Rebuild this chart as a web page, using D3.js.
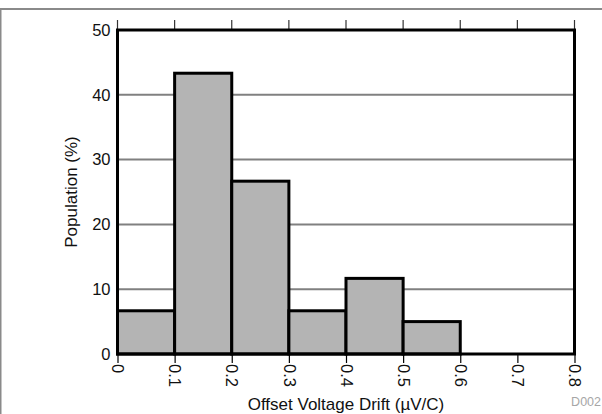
<!DOCTYPE html>
<html>
<head>
<meta charset="utf-8">
<script src="https://cdn.jsdelivr.net/npm/d3@7"></script>
<style>
  html, body { margin: 0; padding: 0; background: #fff; }
  svg { display: block; font-family: "Liberation Sans", Arial, sans-serif; }
</style>
</head>
<body>
<svg id="chart" width="602" height="414"></svg>
<script>
// Histogram bins (µV/C) and share of units in each bin (%)
const binStart = [0.0, 0.1, 0.2, 0.3, 0.4, 0.5, 0.6, 0.7];
const binEnd   = [0.1, 0.2, 0.3, 0.4, 0.5, 0.6, 0.7, 0.8];
const population = [6.67, 43.33, 26.67, 6.67, 11.67, 5.0, 0, 0];

const xTicks = [0, 0.1, 0.2, 0.3, 0.4, 0.5, 0.6, 0.7, 0.8];
const yTicks = [0, 10, 20, 30, 40, 50];

const xTitle = "Offset Voltage Drift (µV/C)";
const yTitle = "Population (%)";
const figId = "D002";

const svg = d3.select("#chart");
const W = 602, H = 414;
const plot = { left: 117.5, right: 574.5, top: 30, bottom: 354 };

const x = d3.scaleLinear().domain([0, 0.8]).range([plot.left, plot.right]);
const y = d3.scaleLinear().domain([0, 50]).range([plot.bottom, plot.top]);

// outer figure border (top and left edges are visible)
svg.append("rect")
  .attr("x", 0.5).attr("y", 9).attr("width", W + 10).attr("height", H + 10)
  .attr("fill", "none").attr("stroke", "#8a8a8a").attr("stroke-width", 2);

// horizontal grid
svg.append("g")
  .selectAll("line")
  .data(yTicks.filter(v => v > 0 && v < 50))
  .join("line")
  .attr("x1", plot.left).attr("x2", plot.right)
  .attr("y1", d => y(d)).attr("y2", d => y(d))
  .attr("stroke", "#808080").attr("stroke-width", 2);

// bars
const bins = binStart.map((s, i) => ({ s, e: binEnd[i], v: population[i] }))
  .filter(d => d.v > 0);
svg.append("g")
  .selectAll("rect")
  .data(bins)
  .join("rect")
  .attr("x", d => x(d.s))
  .attr("y", d => y(d.v))
  .attr("width", d => x(d.e) - x(d.s))
  .attr("height", d => y(0) - y(d.v))
  .attr("fill", "#b4b4b4")
  .attr("stroke", "#000")
  .attr("stroke-width", 3);

// top tick marks above the frame
svg.append("g")
  .selectAll("line")
  .data(xTicks)
  .join("line")
  .attr("x1", d => x(d)).attr("x2", d => x(d))
  .attr("y1", plot.top - 10).attr("y2", plot.top)
  .attr("stroke", "#333").attr("stroke-width", 1.2);

// bottom axis
const xAxis = d3.axisBottom(x)
  .tickValues(xTicks)
  .tickFormat(d => d === 0 ? "0" : d3.format(".1f")(d))
  .tickSize(9)
  .tickSizeOuter(0);
const gx = svg.append("g")
  .attr("transform", `translate(0,${plot.bottom})`)
  .call(xAxis);
gx.select(".domain").remove();
gx.selectAll(".tick line").attr("stroke", "#000").attr("stroke-width", 1.2);
gx.selectAll(".tick text")
  .attr("x", 0).attr("y", 0).attr("dy", "0.35em")
  .attr("transform", "translate(0,10) rotate(90)")
  .attr("text-anchor", "start")
  .attr("fill", "#111")
  .style("font-size", "16.5px")
  .style("font-family", "'Liberation Sans', Arial, sans-serif");

// left axis labels
const yAxis = d3.axisLeft(y).tickValues(yTicks).tickSize(0).tickPadding(7);
const gy = svg.append("g")
  .attr("transform", `translate(${plot.left},0)`)
  .call(yAxis);
gy.select(".domain").remove();
gy.selectAll(".tick text")
  .attr("fill", "#111")
  .style("font-size", "16.5px")
  .style("font-family", "'Liberation Sans', Arial, sans-serif");

// plot frame
svg.append("rect")
  .attr("x", plot.left).attr("y", plot.top)
  .attr("width", plot.right - plot.left).attr("height", plot.bottom - plot.top)
  .attr("fill", "none").attr("stroke", "#000").attr("stroke-width", 3);

// axis titles
svg.append("text")
  .attr("x", (plot.left + plot.right) / 2).attr("y", 410)
  .attr("text-anchor", "middle")
  .attr("fill", "#111")
  .style("font-size", "17px")
  .text(xTitle);

svg.append("text")
  .attr("transform", `translate(77,${(plot.top + plot.bottom) / 2}) rotate(-90)`)
  .attr("text-anchor", "middle")
  .attr("fill", "#111")
  .style("font-size", "17px")
  .text(yTitle);

// figure id
svg.append("text")
  .attr("x", 601).attr("y", 406)
  .attr("text-anchor", "end")
  .attr("fill", "#a6a6a6")
  .style("font-size", "12.5px")
  .text(figId);
</script>
</body>
</html>
